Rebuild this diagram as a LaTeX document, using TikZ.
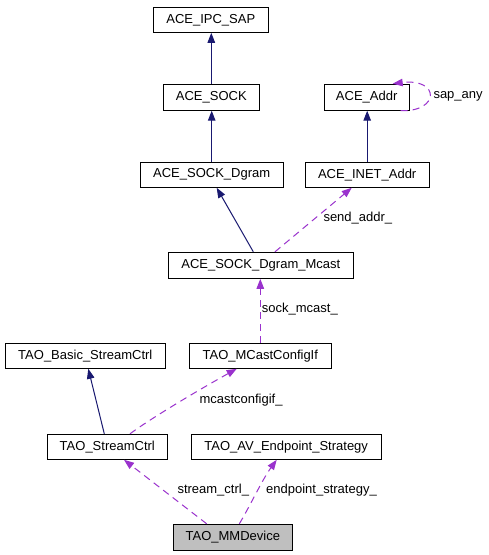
\documentclass[tikz,border=0pt]{standalone}
\usepackage{fontspec}
\setmainfont{Liberation Sans}
\usetikzlibrary{arrows.meta,calc}
\definecolor{navyc}{HTML}{191970}
\definecolor{purpc}{HTML}{9A32CD}
\definecolor{grayfill}{HTML}{BFBFBF}
\begin{document}
\begin{tikzpicture}[x=1pt,y=-1pt,
  cls/.style={draw=black,line width=1pt,inner sep=0pt,minimum height=25pt,font=\fontsize{13}{15}\selectfont},
  inh/.style={draw=navyc,line width=1pt,-{Triangle[length=10pt,width=7.5pt]},color=navyc},
  use/.style={draw=purpc,line width=1pt,dash pattern=on 7pt off 5pt,-{Triangle[length=10pt,width=7.5pt]},color=purpc},
  lbl/.style={anchor=west,inner sep=0pt,font=\fontsize{13}{15}\selectfont,text=black}]
\useasboundingbox (0,0) rectangle (489,555);
\fill[white] (0,0) rectangle (489,555);
% nodes
\node[cls,minimum width=115pt] (ipc) at (210.8,19.8) {ACE\_IPC\_SAP};
\node[cls,minimum width=96pt,minimum height=26pt] (sock) at (211.3,97.2) {ACE\_SOCK};
\node[cls,minimum width=85pt,minimum height=26pt] (addr) at (366.7,97.2) {ACE\_Addr};
\node[cls,minimum width=143pt] (dgram) at (211.7,174.8) {ACE\_SOCK\_Dgram};
\node[cls,minimum width=124pt] (inet) at (367.2,174.8) {ACE\_INET\_Addr};
\node[cls,minimum width=185pt,minimum height=26pt] (mcast) at (260.8,265.3) {ACE\_SOCK\_Dgram\_Mcast};
\node[cls,minimum width=160pt] (basic) at (85.3,355.8) {TAO\_Basic\_StreamCtrl};
\node[cls,minimum width=142pt] (mcfg) at (260.3,355.8) {TAO\_MCastConfigIf};
\node[cls,minimum width=120pt] (sctrl) at (107.3,446.8) {TAO\_StreamCtrl};
\node[cls,minimum width=190pt] (avep) at (286.2,446.8) {TAO\_AV\_Endpoint\_Strategy};
\node[cls,minimum width=119pt,minimum height=26pt,fill=grayfill] (mmdev) at (232.8,537.3) {TAO\_MMDevice};
% inheritance
\draw[inh] (sock.north) -- (sock.north |- ipc.south);
\draw[inh] (dgram.north) -- (dgram.north |- sock.south);
\draw[inh] (inet.north) -- (inet.north |- addr.south);
\draw[inh] ([xshift=-7.5pt]mcast.north) -- ([xshift=5pt]dgram.south);
\draw[inh] ([xshift=-3pt]sctrl.north) -- ([xshift=3pt]basic.south);
% usage
\coordinate (loopS) at ([xshift=-9pt]addr.south east);
\coordinate (loopE) at ([xshift=-17pt]addr.north east);
\draw[use] (loopS) .. controls (440,112) and (440,78) .. (loopE);
\node[lbl] (lsap) at (433.3,96.5) {sap\_any};
\draw[use] ([xshift=14.2pt]mcast.north) -- ([xshift=-15.5pt]inet.south);
\node[lbl] (lsend) at (323.3,218.3) {send\_addr\_};
\draw[use] (mcfg.north) -- (mcfg.north |- mcast.south);
\node[lbl] (lsock) at (261.7,309.3) {sock\_mcast\_};
\draw[use] ([xshift=22.7pt]sctrl.north) .. controls (150,419) and (195,392) .. ([xshift=-23.6pt]mcfg.south);
\node[lbl] (lcfg) at (199.3,400) {mcastconfigif\_};
\draw[use] ([xshift=-26.1pt]mmdev.north) -- ([xshift=16.7pt]sctrl.south);
\node[lbl] (lsc) at (177.3,490) {stream\_ctrl\_};
\draw[use] ([xshift=6.5pt]mmdev.north) .. controls (249,508) and (262,480) .. ([xshift=-9.5pt]avep.south);
\node[lbl] (lep) at (266,490) {endpoint\_strategy\_};
\end{tikzpicture}
\end{document}
